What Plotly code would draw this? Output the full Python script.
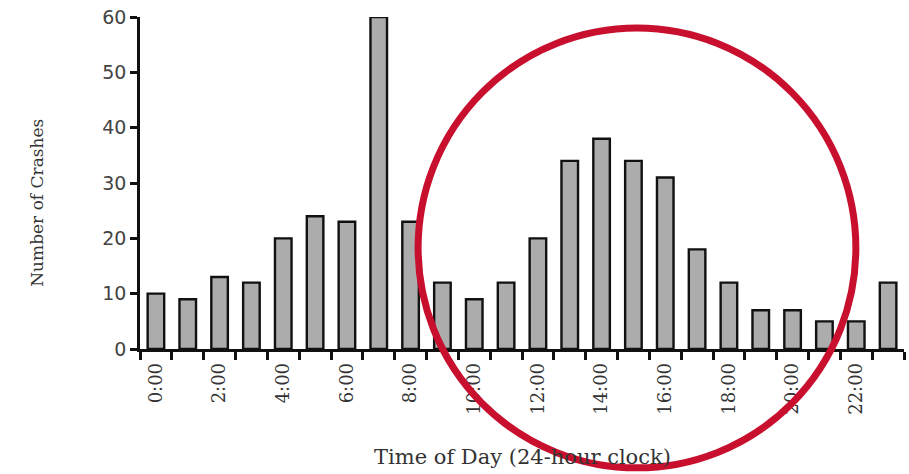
import plotly.graph_objects as go

hours = list(range(24))
crashes = [10, 9, 13, 12, 20, 24, 23, 60, 23, 12, 9, 12, 20, 34, 38, 34, 31, 18, 12, 7, 7, 5, 5, 12]
tick_hours = list(range(0, 24, 2))
tick_labels = [f"{h}:00" for h in tick_hours]
y_ticks = [0, 10, 20, 30, 40, 50, 60]

FONT = "DejaVu Serif"

fig = go.Figure()
fig.add_trace(go.Bar(
    x=hours, y=crashes, width=0.52,
    marker=dict(color="#acacac", line=dict(color="#111111", width=2.4)),
))

fig.update_layout(
    width=909, height=474,
    margin=dict(l=140, r=5, t=17, b=125),
    paper_bgcolor="white", plot_bgcolor="white",
    showlegend=False,
    font=dict(family=FONT, color="#333333"),
    xaxis=dict(
        range=[-0.5, 23.5], tickmode="array", tickvals=tick_hours, ticktext=tick_labels,
        tickangle=-90, ticks="", showgrid=False, zeroline=False,
        showline=True, linecolor="#111111", linewidth=2.5,
        tickfont=dict(family=FONT, size=18, color="#333333"),
        minor=dict(tickvals=[h - 0.5 for h in hours] + [23.5], ticks="outside",
                   ticklen=8, tickwidth=2.5, tickcolor="#111111"),
        ticklabeloverflow="allow", ticklabelstandoff=4,
        fixedrange=True,
    ),
    yaxis=dict(
        range=[0, 60], tickvals=y_ticks, ticks="outside", ticklen=7, tickwidth=2.5,
        tickcolor="#111111", showgrid=False, zeroline=False,
        showline=True, linecolor="#111111", linewidth=2.5,
        tickfont=dict(family="DejaVu Sans", size=19, color="#444444"),
        ticklabeloverflow="allow",
        fixedrange=True,
    ),
    annotations=[
        dict(text="Time of Day (24-hour clock)", xref="paper", yref="paper",
             x=0.501, y=-0.325, xanchor="center", yanchor="middle", showarrow=False,
             font=dict(family=FONT, size=21, color="#333333")),
        dict(text="Number of Crashes", xref="paper", yref="paper",
             x=-0.135, y=0.44, xanchor="center", yanchor="middle", showarrow=False,
             textangle=-90, font=dict(family=FONT, size=17, color="#333333")),
    ],
    shapes=[
        dict(type="circle", xref="paper", yref="paper",
             x0=0.364, x1=0.937, y0=-0.358, y1=0.967,
             line=dict(color="#c8102e", width=7)),
    ],
)

fig.write_html("out.html", config={"displayModeBar": False},
               post_script="document.body.style.margin='0px';")
